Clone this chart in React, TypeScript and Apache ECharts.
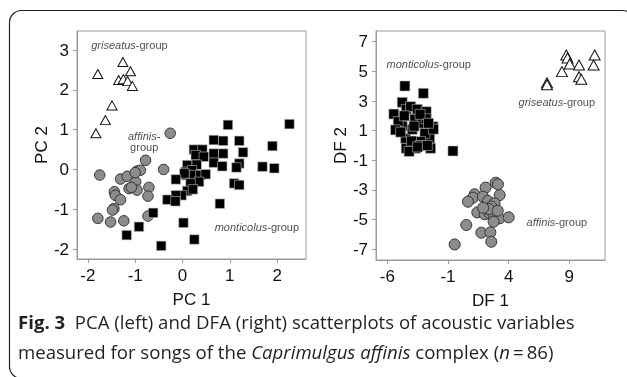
import { useEffect, useRef } from "react";
import * as echarts from "echarts";

const FONT = "Liberation Sans, Arial, sans-serif";
const CAP_FONT = "Open Sans, Noto Sans, sans-serif";

// PCA (left)
const pcaGriseatus: number[][] = [
  [-1.79, 2.4], [-1.26, 2.7], [-1.1, 2.47], [-1.35, 2.25], [-1.25, 2.27],
  [-1.16, 2.22], [-1.06, 2.1], [-1.49, 1.61], [-1.63, 1.24], [-1.83, 0.91],
];
const pcaAffinis: number[][] = [
  [-0.26, 0.91], [-0.78, 0.23], [-0.4, 0.0], [-1.75, -0.14], [-1.31, -0.24],
  [-1.17, -0.17], [-0.96, -0.04], [-0.89, -0.02], [-0.99, -0.31], [-1.13, -0.48],
  [-0.96, -0.52], [-0.71, -0.45], [-1.44, -0.56], [-1.42, -0.65], [-1.31, -0.76],
  [-0.73, -0.67], [-1.45, -0.98], [-1.48, -1.02], [-0.73, -1.17], [-1.79, -1.23],
  [-1.52, -1.32], [-1.24, -1.29], [-1.08, -0.45], [-1.0, -0.08],
];
const pcaMonticolus: number[][] = [
  [0.96, 1.12], [2.26, 1.14], [0.66, 0.74], [0.86, 0.72], [1.2, 0.72],
  [1.9, 0.59], [1.28, 0.43], [0.66, 0.4], [0.86, 0.4], [0.24, 0.5],
  [0.42, 0.5], [0.28, 0.36], [0.45, 0.32], [0.66, 0.17], [0.84, 0.08],
  [1.2, 0.15], [1.14, 0.05], [1.69, 0.07], [1.94, 0.03], [0.1, 0.11],
  [0.3, 0.12], [0.07, -0.06], [0.2, -0.02], [0.08, -0.14], [0.24, -0.14],
  [0.38, -0.14], [0.49, -0.12], [0.35, -0.31], [0.17, -0.35], [0.04, -0.1],
  [-0.14, -0.25], [0.1, -0.54], [0.22, -0.5], [-0.02, -0.65], [-0.14, -0.65],
  [-0.32, -0.76], [-0.15, -0.8], [1.09, -0.35], [1.2, -0.39], [0.79, -0.86],
  [-0.62, -1.09], [0.02, -1.34], [-0.92, -1.44], [-1.18, -1.65], [0.25, -1.76],
  [-0.45, -1.92],
];

// DFA (right)
const dfaGriseatus: number[][] = [
  [8.75, 6.1], [8.85, 5.9], [9.03, 5.5], [9.8, 5.43], [8.39, 4.98], [9.8, 4.64],
  [9.99, 4.46], [11.09, 6.1], [11.0, 5.43], [7.16, 4.23], [7.16, 4.1],
];
const dfaAffinis: number[][] = [
  [2.93, -2.51], [3.12, -2.62], [2.1, -2.84], [1.2, -3.29], [1.06, -3.52],
  [0.65, -3.79], [3.26, -3.34], [1.88, -3.45], [2.29, -3.74], [2.84, -3.9],
  [2.57, -4.12], [1.42, -4.51], [2.02, -4.64], [2.43, -4.57], [2.76, -4.64],
  [2.98, -4.96], [3.26, -4.91], [4.0, -4.84], [0.51, -5.36], [1.75, -5.88],
  [2.49, -5.86], [2.57, -6.49], [-0.45, -6.67], [2.35, -4.28], [2.76, -5.14],
  [1.9, -4.2], [3.1, -4.4],
];
const dfaMonticolus: number[][] = [
  [-4.55, 4.01], [-3.03, 3.52], [-4.77, 2.91], [-5.46, 2.12], [-4.44, 2.44],
  [-4.08, 2.62], [-3.53, 2.44], [-2.79, 2.28], [-3.72, 1.77], [-4.77, 1.31],
  [-3.12, 1.5], [-2.24, 1.27], [-5.1, 1.61], [-4.49, 0.48], [-3.67, -0.19],
  [-4.44, -0.19], [-2.51, 0.48], [-2.43, -0.19], [-2.9, 0.82], [-3.94, 1.09],
  [-3.26, 0.26], [-0.59, -0.37], [-5.32, 1.05], [-4.0, 0.3], [-3.3, 0.0],
  [-4.2, -0.4], [-3.8, 1.3], [-2.8, 1.8], [-4.9, 0.9], [-3.5, -0.1],
  [-2.7, 0.0], [-4.6, 2.0], [-3.3, 2.1], [-2.2, 1.1], [-2.6, 1.5],
];

const pcaTicksX = [-2, -1, 0, 1, 2];
const pcaTicksY = [-2, -1, 0, 1, 2, 3];
const dfaTicksX = [-6, -1, 4, 9];
const dfaTicksY = [-7, -5, -3, -1, 1, 3, 5, 7];

// group labels: [x, y, italic part, normal part]
const pcaGroupLabels: [number, number, string, string][] = [
  [-1.93, 3.13, "griseatus", "-group"],
  [0.68, -1.45, "monticolus", "-group"],
];
const pcaAffinisLabel: [number, number] = [-0.81, 0.7];
const dfaGroupLabels: [number, number, string, string][] = [
  [-6.06, 5.5, "monticolus", "-group"],
  [4.82, 2.93, "griseatus", "-group"],
  [5.48, -5.16, "affinis", "-group"],
];

const captionLine1 = "{b|Fig. 3}  PCA (left) and DFA (right) scatterplots of acoustic variables";
const captionLine2 = "measured for songs of the {i|Caprimulgus affinis} complex ({i|n}\u2009=\u200986)";

const axis = (min: number, max: number, ticks: number[], name: string, nameGap: number, idx: number) => ({
  type: "value",
  gridIndex: idx,
  min,
  max,
  name,
  nameLocation: "middle",
  nameGap,
  nameTextStyle: { fontFamily: FONT, fontSize: 17, color: "#111" },
  splitLine: { show: false },
  axisLine: { show: true, onZero: false, lineStyle: { color: "#999", width: 1 } },
  axisTick: { show: true, length: 4, lineStyle: { color: "#999" }, customValues: ticks },
  axisLabel: { fontFamily: FONT, fontSize: 17, color: "#111", margin: 8, customValues: ticks },
});

const textRich = {
  i: { fontFamily: FONT, fontSize: 11, fontStyle: "italic", color: "#222" },
  n: { fontFamily: FONT, fontSize: 11, color: "#222" },
};

const labelSeries = (labels: [number, number, string, string][], idx: number) => ({
  type: "scatter",
  xAxisIndex: idx,
  yAxisIndex: idx,
  symbolSize: 0,
  silent: true,
  data: labels.map((l) => ({ value: [l[0], l[1]], name: l[2] + "|" + l[3] })),
  label: {
    show: true,
    position: "right",
    distance: 0,
    formatter: (p: any) => {
      const [a, b] = p.name.split("|");
      return `{i|${a}}{n|${b}}`;
    },
    rich: textRich,
  },
  z: 5,
});

const capStyle = (text: string) => ({
  text,
  fontFamily: CAP_FONT,
  fontSize: 18.6,
  lineHeight: 20,
  fill: "#231f20",
  rich: {
    b: { fontFamily: CAP_FONT, fontSize: 18.6, fontWeight: "bold", fill: "#231f20", lineHeight: 20 },
    i: { fontFamily: CAP_FONT, fontSize: 18.6, fontStyle: "italic", fill: "#231f20", lineHeight: 20 },
  },
});

export default function App() {
  const ref = useRef<HTMLDivElement>(null);
  useEffect(() => {
    if (!ref.current) return;
    const chart = echarts.init(ref.current, null, { renderer: "svg" });
    const sq = { color: "#000", borderColor: "#bdbdbd", borderWidth: 0.6, opacity: 1 };
    const ci = { color: "#8c8c8c", borderColor: "#333", borderWidth: 1, opacity: 1 };
    const tr = { color: "#fff", borderColor: "#111", borderWidth: 1, opacity: 1 };
    chart.setOption({
      animation: false,
      grid: [
        { left: 77, top: 31, width: 229, height: 228, show: true, borderColor: "#999", borderWidth: 1 },
        { left: 376, top: 31, width: 229, height: 229, show: true, borderColor: "#999", borderWidth: 1 },
      ],
      xAxis: [
        axis(-2.23, 2.61, pcaTicksX, "PC 1", 32, 0),
        axis(-6.93, 11.94, dfaTicksX, "DF 1", 32, 1),
      ],
      yAxis: [
        axis(-2.25, 3.48, pcaTicksY, "PC 2", 21, 0),
        axis(-7.72, 7.72, dfaTicksY, "DF 2", 26, 1),
      ],
      series: [
        { type: "scatter", xAxisIndex: 0, yAxisIndex: 0, symbol: "triangle", symbolSize: [10, 9], itemStyle: tr, data: pcaGriseatus },
        { type: "scatter", xAxisIndex: 0, yAxisIndex: 0, symbol: "circle", symbolSize: 10.5, itemStyle: ci, data: pcaAffinis },
        { type: "scatter", xAxisIndex: 0, yAxisIndex: 0, symbol: "rect", symbolSize: 9.5, itemStyle: sq, data: pcaMonticolus },
        { type: "scatter", xAxisIndex: 1, yAxisIndex: 1, symbol: "triangle", symbolSize: [11, 10], itemStyle: tr, data: dfaGriseatus },
        { type: "scatter", xAxisIndex: 1, yAxisIndex: 1, symbol: "circle", symbolSize: 11, itemStyle: ci, data: dfaAffinis },
        { type: "scatter", xAxisIndex: 1, yAxisIndex: 1, symbol: "rect", symbolSize: 10, itemStyle: sq, data: dfaMonticolus },
        labelSeries(pcaGroupLabels, 0),
        labelSeries(dfaGroupLabels, 1),
        {
          type: "scatter",
          xAxisIndex: 0,
          yAxisIndex: 0,
          symbolSize: 0,
          silent: true,
          data: [pcaAffinisLabel],
          label: {
            show: true,
            position: "inside",
            align: "center",
            verticalAlign: "middle",
            lineHeight: 11,
            formatter: "{i|affinis-}\n{n|group}",
            rich: textRich,
          },
          z: 5,
        },
      ],
      graphic: [
        {
          type: "rect",
          shape: { x: 9.5, y: 10.5, width: 625, height: 368, r: 12 },
          style: { fill: "none", stroke: "#222", lineWidth: 1.2 },
          silent: true,
        },
        { type: "text", left: 18, top: 311, style: capStyle(captionLine1) },
        { type: "text", left: 18, top: 341, style: capStyle(captionLine2) },
      ],
    });
    return () => chart.dispose();
  }, []);
  return <div ref={ref} style={{ position: "fixed", left: 0, top: 0, width: 627, height: 377 }} />;
}
